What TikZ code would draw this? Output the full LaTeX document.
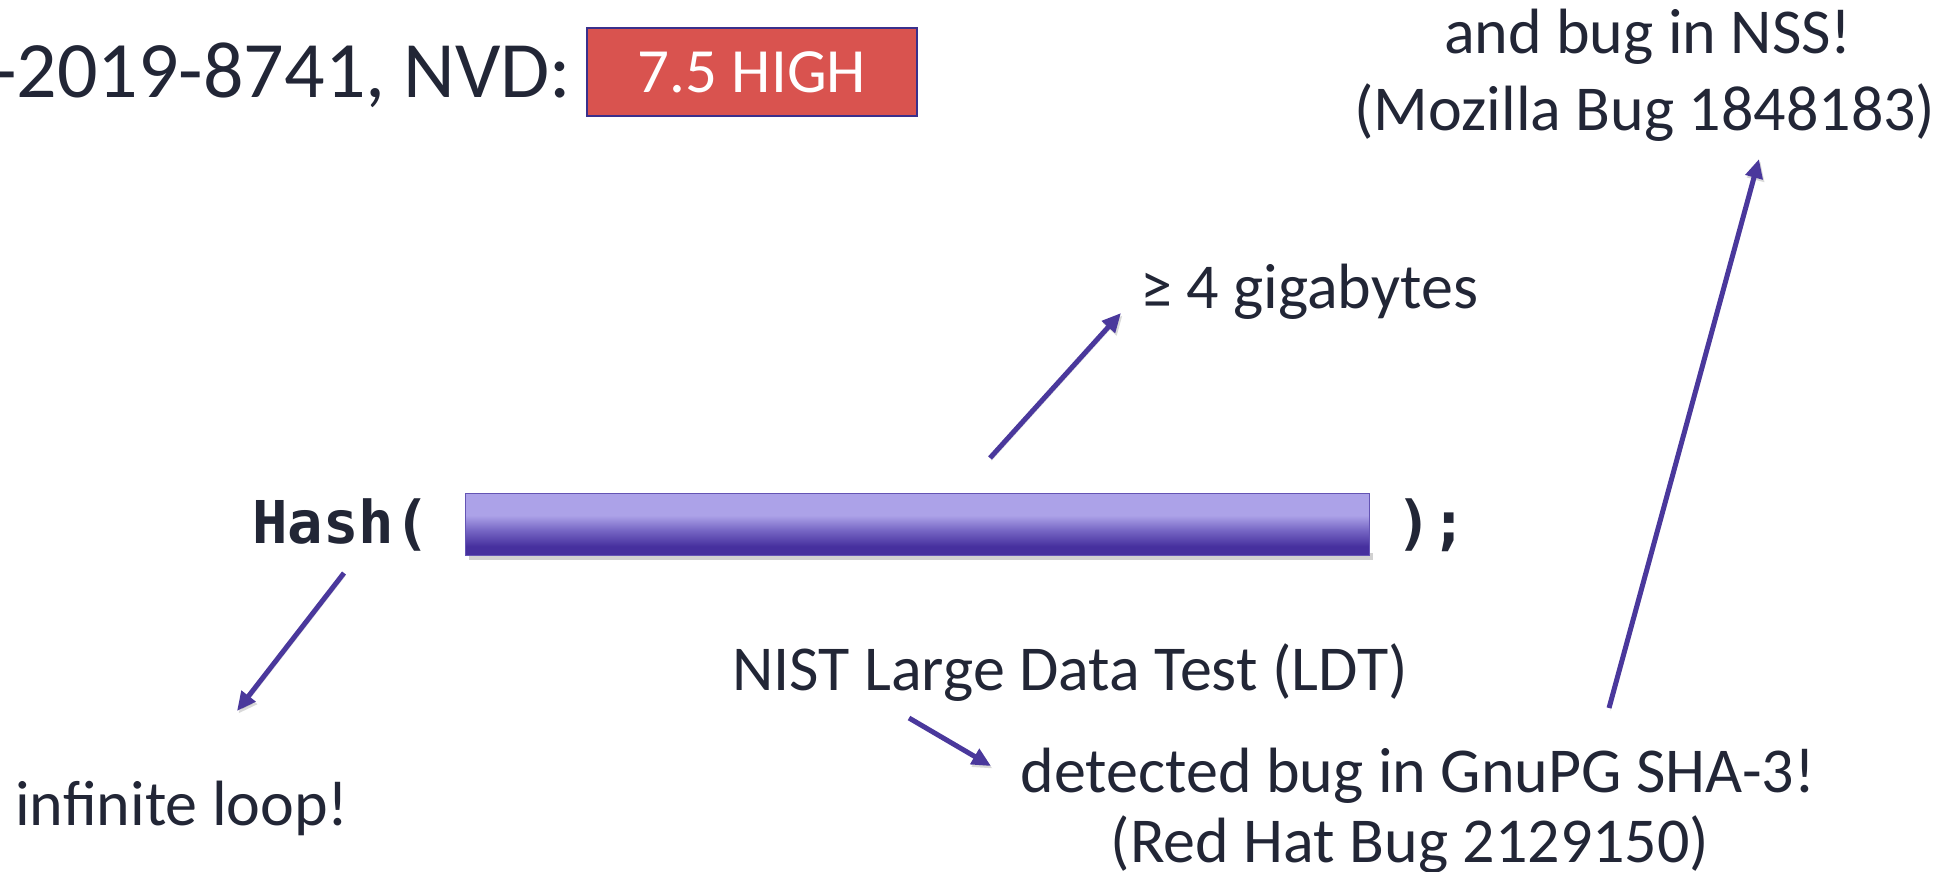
\documentclass[tikz,border=0pt]{standalone}
\usepackage{fontspec}
\setmainfont{Carlito}
\newfontfamily\codefont{DejaVu Sans Mono}
\usetikzlibrary{arrows.meta}

\definecolor{ink}{RGB}{34,38,54}
\definecolor{arrowc}{RGB}{74,56,156}
\definecolor{sevfill}{RGB}{217,83,79}
\definecolor{sevline}{RGB}{58,48,140}
\definecolor{bartop}{RGB}{172,162,232}
\definecolor{barmid}{RGB}{118,102,196}
\definecolor{barbot}{RGB}{70,48,158}
\definecolor{barline}{RGB}{100,84,180}

\newcommand\setpx[1]{\fontsize{#1pt}{#1pt}\selectfont}

% light lavender on top, deep violet at the bottom
\pgfdeclareverticalshading{inputbar}{100bp}{%
  color(0bp)=(barbot); color(25bp)=(barbot); color(32bp)=(barbot);
  color(45bp)=(barmid); color(57bp)=(bartop); color(75bp)=(bartop);
  color(100bp)=(bartop)}

\tikzset{
  txt/.style={inner sep=0pt, text=ink, font=\setpx{64}},
  code/.style={inner sep=0pt, text=ink, font=\codefont\bfseries\setpx{59}},
  ptr/.style={line width=5pt, draw=arrowc,
    -{Triangle[length=19pt,width=17pt]},
    preaction={draw=black, draw opacity=.15, fill opacity=.15,
      transform canvas={shift={(1.5pt,-2.5pt)}}}},
}

\begin{document}
\begin{tikzpicture}[x=1pt,y=-1pt]
\useasboundingbox (0,0) rectangle (1954,871);

% headline with the severity badge
\node[txt, font=\setpx{80}, anchor=base west] (cve) at (-8,97) {-2019-8741, NVD:};
\node[draw=sevline, line width=1.5pt, fill=sevfill, text=white, font=\setpx{63},
      minimum width=330pt, minimum height=88pt, inner sep=0pt] (score) at (752,72) {7.5 HIGH};

% top right note
\node[txt, anchor=base] (nss1) at (1648,53) {and bug in NSS!};
\node[txt, anchor=base] (nss2) at (1645,130) {(Mozilla Bug 1848183)};

% the call with its long input
\node[code, anchor=base west] (hashl) at (252,543) {Hash(};
\fill[black, opacity=.18] (469,553) rectangle (1373,560);
\node[shading=inputbar, draw=barline, line width=1pt, inner sep=0pt,
      minimum width=904pt, minimum height=62pt] (bar) at (917,524) {};
\node[code, anchor=base west] (hashr) at (1396,543) {);};

% annotations
\node[txt, anchor=base west] (gig) at (1140,308) {≥ 4 gigabytes};
\node[txt, anchor=base west] (loop) at (15,825) {infinite loop!};
\node[txt, anchor=base] (nist) at (1070,690) {NIST Large Data Test (LDT)};
\node[txt, anchor=base] (det1) at (1418,792) {detected bug in GnuPG SHA-3!};
\node[txt, anchor=base] (det2) at (1410,862) {(Red Hat Bug 2129150)};

% arrow end points
\coordinate (gigS) at (990,458);
\coordinate (gigT) at (1121,313);
\coordinate (loopS) at (344,573);
\coordinate (loopT) at (237,711);
\coordinate (nistS) at (909,718);
\coordinate (nistT) at (991,766);
\coordinate (nssS) at (1609,708);
\coordinate (nssT) at (1759,159);

\draw[ptr] (gigS) -- (gigT);
\draw[ptr] (loopS) -- (loopT);
\draw[ptr] (nistS) -- (nistT);
\draw[ptr] (nssS) -- (nssT);
\end{tikzpicture}
\end{document}
